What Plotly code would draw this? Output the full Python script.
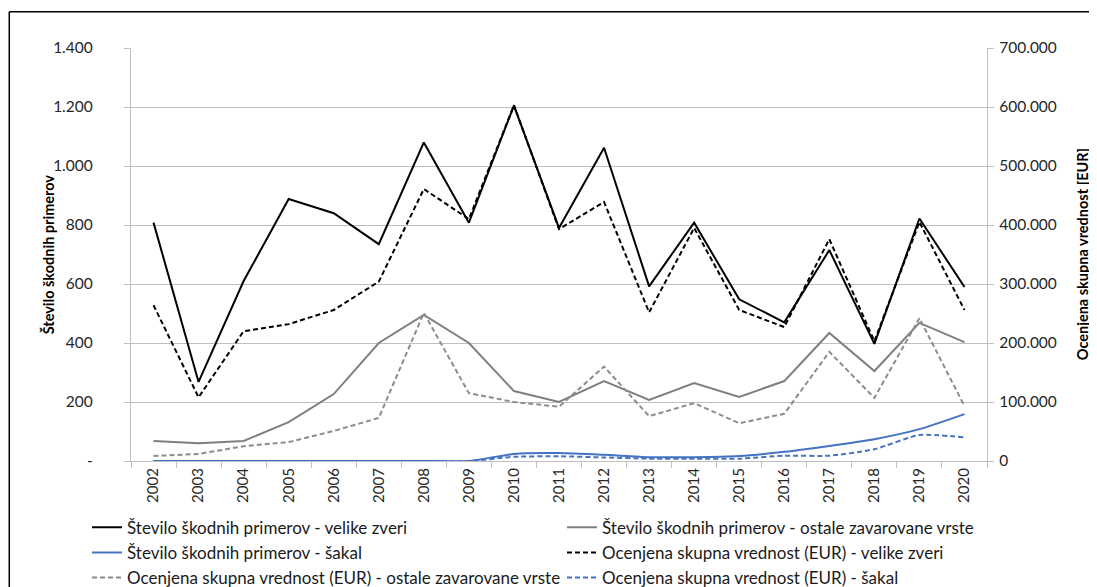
import plotly.graph_objects as go

years = [str(y) for y in range(2002, 2021)]

st_velike = [808, 268, 610, 888, 840, 735, 1080, 808, 1205, 790, 1062, 592, 808, 548, 470, 715, 397, 822, 590]
st_ostale = [68, 60, 68, 132, 227, 400, 495, 400, 237, 200, 271, 207, 264, 217, 271, 434, 305, 468, 403]
st_sakal = [0, 0, 0, 0, 0, 0, 0, 0, 24, 27, 21, 13, 13, 17, 31, 51, 74, 108, 159]

vr_velike = [264000, 108000, 220000, 232000, 256000, 304000, 461000, 410000, 603000, 393000, 439000, 252000, 395000, 256000, 227000, 376000, 203000, 405000, 256000]
vr_ostale = [8500, 12000, 25000, 32000, 51000, 73000, 251000, 115000, 100000, 92000, 160000, 76000, 98000, 64000, 80000, 185000, 107000, 242000, 93000]
vr_sakal = [0, 0, 0, 0, 0, 0, 0, 0, 7000, 8000, 6000, 4000, 4000, 4000, 9000, 9000, 20000, 44000, 40000]

left_ticks = [0, 200, 400, 600, 800, 1000, 1200, 1400]
left_ticktext = ["-", "200", "400", "600", "800", "1.000", "1.200", "1.400"]
right_ticks = [0, 100000, 200000, 300000, 400000, 500000, 600000, 700000]
right_ticktext = ["0", "100.000", "200.000", "300.000", "400.000", "500.000", "600.000", "700.000"]

names = [
    "Število škodnih primerov - velike zveri",
    "Število škodnih primerov - ostale zavarovane vrste",
    "Število škodnih primerov - šakal",
    "Ocenjena skupna vrednost (EUR) - velike zveri",
    "Ocenjena skupna vrednost (EUR) - ostale zavarovane vrste",
    "Ocenjena skupna vrednost (EUR) - šakal",
]

BLACK = "#000000"
GRAY = "#7f7f7f"
GRAYD = "#8c8c8c"
BLUE = "#4472C4"
DASH = "5px,3px"

fig = go.Figure()
fig.add_trace(go.Scatter(x=years, y=st_velike, name=names[0], mode="lines",
                         line=dict(color=BLACK, width=2)))
fig.add_trace(go.Scatter(x=years, y=st_ostale, name=names[1], mode="lines",
                         line=dict(color=GRAY, width=2)))
fig.add_trace(go.Scatter(x=years, y=st_sakal, name=names[2], mode="lines",
                         line=dict(color=BLUE, width=2, shape="spline", smoothing=0.6)))
fig.add_trace(go.Scatter(x=years, y=vr_velike, name=names[3], mode="lines", yaxis="y2",
                         line=dict(color=BLACK, width=2, dash=DASH)))
fig.add_trace(go.Scatter(x=years, y=vr_ostale, name=names[4], mode="lines", yaxis="y2",
                         line=dict(color=GRAYD, width=2, dash=DASH)))
fig.add_trace(go.Scatter(x=years, y=vr_sakal, name=names[5], mode="lines", yaxis="y2",
                         line=dict(color=BLUE, width=2, dash=DASH, shape="spline", smoothing=0.6)))

FONT = "Lato"
TICKC = "#262626"
AXC = "#bfbfbf"

fig.update_layout(
    width=1089, height=579,
    margin=dict(l=123, r=110, t=40, b=126, autoexpand=False),
    paper_bgcolor="white", plot_bgcolor="white",
    font=dict(family=FONT, size=15, color=TICKC),
    showlegend=True,
    legend=dict(orientation="h", x=-0.0514, y=-0.118, xanchor="left", yanchor="top",
                entrywidth=430, entrywidthmode="pixels",
                font=dict(family=FONT, size=17, color="#1a1a1a"),
                bgcolor="rgba(0,0,0,0)", tracegroupgap=0),
    xaxis=dict(type="category", tickangle=-90, tickson="boundaries",
               ticks="outside", ticklen=6, tickcolor=AXC, tickwidth=1.3,
               showline=True, linecolor=AXC, linewidth=1.3,
               showgrid=False, tickfont=dict(family=FONT, size=15, color=TICKC),
               range=[-0.5, 18.5]),
    yaxis=dict(range=[0, 1400], tickvals=left_ticks, ticktext=left_ticktext,
               showgrid=True, gridcolor=AXC, gridwidth=1.3,
               ticks="outside", ticklen=6, tickcolor=AXC, tickwidth=1.3,
               showline=True, linecolor=AXC, linewidth=1.3,
               ticklabelstandoff=28, zeroline=False,
               tickfont=dict(family=FONT, size=15.5, color=TICKC)),
    yaxis2=dict(range=[0, 700000], tickvals=right_ticks, ticktext=right_ticktext,
                overlaying="y", side="right", showgrid=False,
                ticks="outside", ticklen=6, tickcolor=AXC, tickwidth=1.3,
                showline=True, linecolor=AXC, linewidth=1.3,
                ticklabelstandoff=2, zeroline=False,
                tickfont=dict(family=FONT, size=15.5, color=TICKC)),
    annotations=[
        dict(text="<b>Število škodnih primerov</b>", xref="paper", yref="paper",
             x=-0.11, y=0.5, textangle=-90, showarrow=False,
             font=dict(family=FONT, size=14.5, color="#000000")),
        dict(text="<b>Ocenjena skupna vrednost [EUR]</b>", xref="paper", yref="paper",
             x=1.124, y=0.5, textangle=-90, showarrow=False,
             font=dict(family=FONT, size=14.5, color="#000000")),
    ],
    shapes=[
        dict(type="line", xref="paper", yref="paper", x0=-0.1422, y0=1.0879, x1=1.3, y1=1.0879,
             line=dict(color="#000000", width=1.5), layer="below"),
        dict(type="line", xref="paper", yref="paper", x0=-0.1422, y0=-0.5, x1=-0.1422, y1=1.0879,
             line=dict(color="#000000", width=1.5), layer="below"),
    ],
)

fig.write_html(
    "out.html",
    post_script="document.documentElement.style.overflow='hidden';document.body.style.overflow='hidden';",
)
